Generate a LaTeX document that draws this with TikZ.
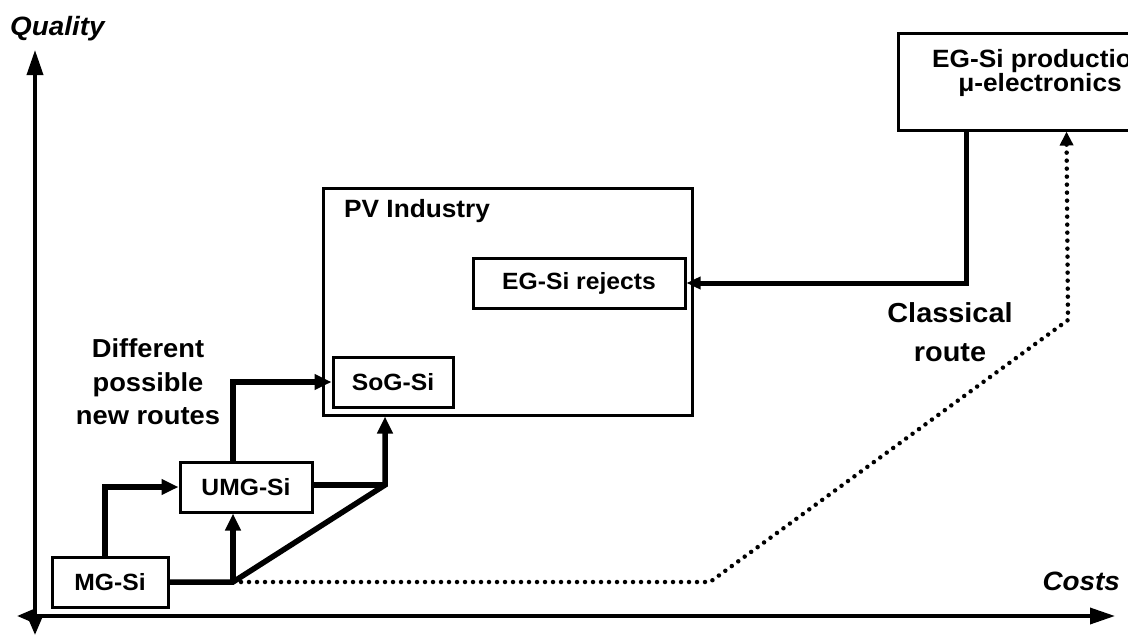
\documentclass[tikz,border=0pt]{standalone}
\usepackage{fontspec}
\setmainfont{Liberation Sans}[FakeStretch=1.05]
\usetikzlibrary{arrows.meta}
\begin{document}
\begin{tikzpicture}[x=1pt,y=-1pt,
  box/.style={draw, line width=3pt, minimum height=50pt, inner sep=0pt,
    font=\fontsize{23.5}{26}\selectfont\bfseries},
  lbl/.style={inner sep=0pt, align=center, font=\fontsize{26}{33.5}\selectfont\bfseries},
  axlbl/.style={inner sep=0pt, font=\fontsize{26.5}{28}\selectfont\bfseries\itshape},
  route/.style={line width=5.5pt, line join=miter, -{Triangle[length=17pt,width=15pt]}},
  plain/.style={line width=5.5pt, line join=miter},
  back/.style={line width=5pt, line join=miter, -{Triangle[length=14pt,width=12pt]}},
  dotline/.style={line width=4.5pt, line cap=round, dash pattern=on 0pt off 8pt,
    -{Triangle[length=14pt,width=13pt]}},
  axis/.style={line width=3.5pt, {Triangle[length=18pt,width=14pt]}-{Triangle[length=25pt,width=16pt]}}
]
\useasboundingbox (0,0) rectangle (1128,637);
\clip (0,0) rectangle (1128,637);

% axes
\coordinate (ytop) at (35,50);
\coordinate (ybot) at (35,635);
\coordinate (xl) at (17,616);
\coordinate (xr) at (1115,616);
\draw[axis] (ybot) -- (ytop);
\draw[axis] (xl) -- (xr);
\node[axlbl, anchor=base west] (qual) at (10,35) {Quality};
\node[axlbl, anchor=base east] (cost) at (1120,590) {Costs};

% boxes
\node[box, minimum width=369pt, minimum height=227pt] (PV) at (507.5,301.5) {};
\node[inner sep=0pt, anchor=west, font=\fontsize{25}{28}\selectfont\bfseries] (pvl) at (344,211) {PV Industry};
\node[box, minimum width=212pt] (rej) at (579,283) {EG-Si rejects};
\node[box, minimum width=120pt] (SoG) at (393,382) {SoG-Si};
\node[box, minimum width=132pt] (UMG) at (246,487) {UMG-Si};
\node[box, minimum width=116pt] (MG) at (110,582) {MG-Si};
\node[box, minimum width=284pt, minimum height=97pt] (EG) at (1040,81.5) {};
\node[inner sep=0pt, align=center, font=\fontsize{25}{23}\selectfont\bfseries] (egt) at (1040,73)
  {EG-Si production\\μ-electronics};

% labels
\node[lbl] (newr) at (148,382) {Different\\possible\\new routes};
\node[lbl, font=\fontsize{27.5}{39}\selectfont\bfseries] (clas) at (950,332) {Classical\\route};

% junctions
\coordinate (jA) at (233,582);
\coordinate (jB) at (385,485);
\coordinate (d1) at (710,582);
\coordinate (d2) at (1068,320);

% new routes
\draw[route] ([xshift=-5pt]MG.north) |- (UMG.west);
\draw[route] (MG.east) -- (jA) -- (jB) -- (jB |- PV.south);
\draw[route] (jA) -- (jA |- UMG.south);
\draw[plain] (UMG.east |- jB) -- (jB);
\draw[route] (jA |- UMG.north) |- (SoG.west);

% rejects to PV
\draw[back] ([xshift=70pt]EG.south west) |- (rej.east);

% classical route
\draw[dotline] (jA) -- (d1) -- (d2) -- ([xshift=170pt]EG.south west);
\end{tikzpicture}
\end{document}
